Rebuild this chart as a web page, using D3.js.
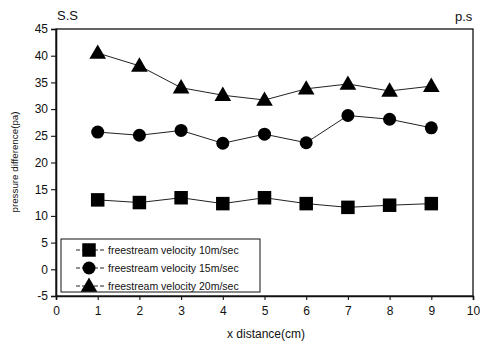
<!DOCTYPE html>
<html>
<head>
<meta charset="utf-8">
<script src="https://cdn.jsdelivr.net/npm/d3@7"></script>
<style>
  html, body { margin: 0; padding: 0; background: #fff; }
  svg { display: block; font-family: "Liberation Sans", Arial, sans-serif; }
</style>
</head>
<body>
<svg id="chart" width="480" height="343"></svg>
<script>
// x positions along the channel (cm)
const xDistance = [1, 2, 3, 4, 5, 6, 7, 8, 9];
// pressure difference (pa) for each freestream velocity
const v10 = [13.0, 12.5, 13.4, 12.3, 13.4, 12.3, 11.6, 12.0, 12.3];
const v15 = [25.7, 25.1, 26.0, 23.6, 25.3, 23.7, 28.8, 28.1, 26.5];
const v20 = [40.5, 38.1, 34.0, 32.6, 31.7, 33.8, 34.7, 33.4, 34.3];
const seriesNames = [
  "freestream velocity 10m/sec",
  "freestream velocity 15m/sec",
  "freestream velocity 20m/sec"
];
const seriesShapes = ["square", "circle", "triangle"];
const xTicks = [0, 1, 2, 3, 4, 5, 6, 7, 8, 9, 10];
const yTicks = [-5, 0, 5, 10, 15, 20, 25, 30, 35, 40, 45];

const series = [v10, v15, v20].map((vals, i) => ({
  name: seriesNames[i],
  shape: seriesShapes[i],
  points: vals.map((v, j) => ({ x: xDistance[j], y: v }))
}));

const svg = d3.select("#chart");
const L = 56, R = 473, T = 29, B = 296;

const x = d3.scaleLinear().domain([0, 10]).range([L, R]);
const y = d3.scaleLinear().domain([-5, 45]).range([B, T]);

// plot frame
svg.append("rect")
  .attr("x", L).attr("y", T).attr("width", R - L).attr("height", B - T)
  .attr("fill", "none").attr("stroke", "#111").attr("stroke-width", 1.3);

// axes
const fmt = d => String(d);
const xAxis = svg.append("g").attr("transform", `translate(0,${B})`)
  .call(d3.axisBottom(x).tickValues(xTicks).tickSize(4).tickPadding(6).tickFormat(fmt));
const yAxis = svg.append("g").attr("transform", `translate(${L},0)`)
  .call(d3.axisLeft(y).tickValues(yTicks).tickSize(5).tickPadding(3).tickFormat(fmt));

[xAxis, yAxis].forEach(g => {
  g.select(".domain").attr("stroke", "#111").attr("stroke-width", 1.6);
  g.selectAll(".tick line").attr("stroke", "#111").attr("stroke-width", 1.1);
  g.selectAll(".tick text").attr("fill", "#111").attr("font-size", 12);
});

// axis titles
svg.append("text")
  .attr("x", 266).attr("y", 338)
  .attr("text-anchor", "middle").attr("font-size", 12).attr("fill", "#111")
  .text("x distance(cm)");
svg.append("text")
  .attr("transform", `translate(18,162) rotate(-90)`)
  .attr("text-anchor", "middle").attr("font-size", 9.8).attr("fill", "#111")
  .text("pressure difference(pa)");

// corner labels
svg.append("text").attr("x", 57).attr("y", 20)
  .attr("font-size", 13).attr("fill", "#111").text("S.S");
svg.append("text").attr("x", 455).attr("y", 21)
  .attr("font-size", 13).attr("fill", "#111").text("p.s");

// marker drawing
function marker(sel, shape, size) {
  const sym = { square: d3.symbolSquare, circle: d3.symbolCircle, triangle: d3.symbolTriangle }[shape];
  const area = { square: size * size, circle: Math.PI * (size / 2) * (size / 2), triangle: size * size * 0.5 }[shape];
  sel.append("path")
    .attr("d", d3.symbol().type(sym).size(area)())
    .attr("transform", shape === "triangle" ? "translate(0,1)" : null)
    .attr("fill", "#000");
}
const markerSize = { square: 13.5, circle: 13, triangle: 15.5 };

const line = d3.line().x(d => x(d.x)).y(d => y(d.y));

series.forEach(s => {
  svg.append("path").datum(s.points)
    .attr("d", line)
    .attr("fill", "none").attr("stroke", "#222").attr("stroke-width", 1);
  svg.append("g").selectAll("g").data(s.points).join("g")
    .attr("transform", d => `translate(${x(d.x)},${y(d.y)})`)
    .each(function () { marker(d3.select(this), s.shape, markerSize[s.shape]); });
});

// legend
const lg = svg.append("g");
lg.append("rect").attr("x", 61).attr("y", 239).attr("width", 199).attr("height", 53)
  .attr("fill", "#fff").attr("stroke", "#111").attr("stroke-width", 1);
series.forEach((s, i) => {
  const ly = 250 + i * 18;
  lg.append("line").attr("x1", 76).attr("x2", 105).attr("y1", ly).attr("y2", ly)
    .attr("stroke", "#222").attr("stroke-width", 1).attr("stroke-dasharray", "4,2");
  const mg = lg.append("g").attr("transform", `translate(89,${ly})`);
  marker(mg, s.shape, markerSize[s.shape]);
  lg.append("text").attr("x", 108).attr("y", ly + 4)
    .attr("font-size", 10.5).attr("fill", "#111").text(s.name);
});
</script>
</body>
</html>
